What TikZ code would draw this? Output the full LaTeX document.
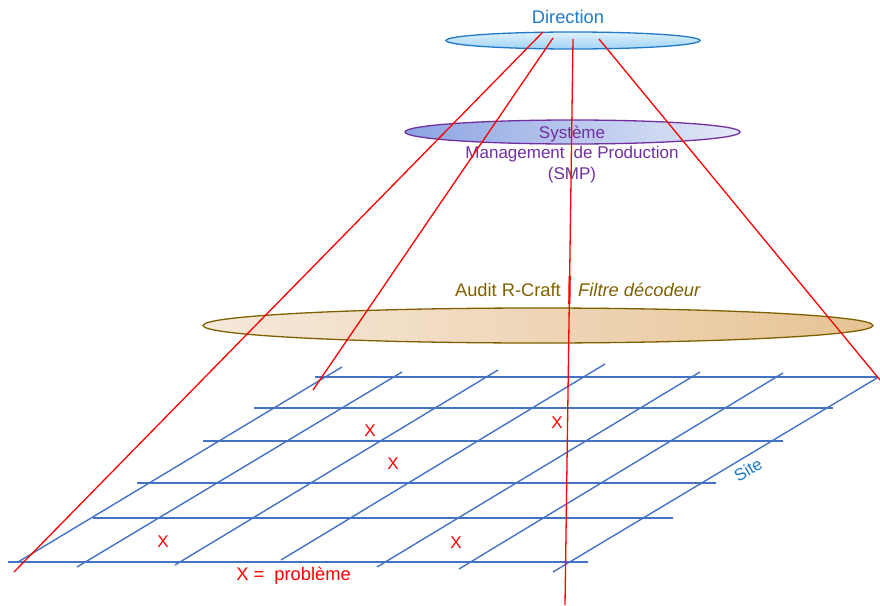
\documentclass[tikz,border=0pt]{standalone}
\usepackage{fontspec}
\setmainfont{Liberation Sans}
\definecolor{gridblue}{HTML}{4472C4}
\definecolor{dirblue}{HTML}{1F7BC8}
\definecolor{smppurple}{HTML}{7030A0}
\definecolor{auditbrown}{HTML}{7F6000}
\definecolor{redline}{HTML}{FF0000}
\begin{document}
\begin{tikzpicture}[x=1pt,y=-1pt,
  gridline/.style={gridblue,line width=1.4pt},
  redray/.style={redline,line width=1.3pt},
  lbl/.style={font=\fontsize{17}{20.5}\selectfont,inner sep=0pt},
  biglbl/.style={font=\fontsize{18.3}{21}\selectfont,inner sep=0pt},
  xmark/.style={lbl,text=redline}]
\useasboundingbox (0,0) rectangle (880,605);
% ellipses
\shade[top color={rgb,255:red,222;green,240;blue,252},bottom color={rgb,255:red,160;green,212;blue,246},draw=dirblue,line width=1.3pt]
  (573,40.5) ellipse [x radius=127pt,y radius=8.5pt];
\shade[left color={rgb,255:red,140;green,164;blue,226},right color={rgb,255:red,228;green,233;blue,248},draw=smppurple,line width=1.3pt]
  (572.5,132) ellipse [x radius=167.5pt,y radius=12pt];
\shade[shading angle=120,left color={rgb,255:red,246;green,233;blue,219},right color={rgb,255:red,231;green,195;blue,148},draw=auditbrown,line width=1.3pt]
  (538,325.5) ellipse [x radius=335pt,y radius=17.5pt];
% texts
\node[biglbl,text=dirblue] (dir) at (568,17) {Direction};
\node[lbl,text=smppurple,align=center] (smp) at (572,154)
  {Système\\Management\hspace{9pt}de Production\\(SMP)};
\node[biglbl,text=auditbrown,anchor=east] (audit) at (561,290) {Audit R-Craft};
\node[biglbl,text=auditbrown,anchor=west] (filtre) at (578,290) {\itshape Filtre décodeur};
% grid
\draw[gridline] (315,377) -- (878,377);
\draw[gridline] (254,408) -- (833,408);
\draw[gridline] (203,441) -- (783,441);
\draw[gridline] (137,483) -- (716,483);
\draw[gridline] (93,518) -- (673,518);
\draw[gridline] (8,562) -- (588,562);
\draw[gridline] (18,562) -- (342,367);
\draw[gridline] (77,567) -- (402,372);
\draw[gridline] (175,565) -- (498,370);
\draw[gridline] (281,560) -- (605,364);
\draw[gridline] (377,567) -- (700,372);
\draw[gridline] (459,569) -- (783,373);
\draw[gridline] (553,572) -- (877,378);
% red rays
\draw[redray] (543,32) -- (14,572);
\draw[redray] (553,38) -- (313,390);
\draw[redray] (573,39) -- (565,605);
\draw[redray] (599,39) -- (880,380);
\draw[redline,line width=2.2pt] (569.7,276) -- (569.3,304);
% marks
\node[xmark] (x1) at (370,431) {X};
\node[xmark] (x2) at (393,464) {X};
\node[xmark] (x3) at (557,423) {X};
\node[xmark] (x4) at (163,542) {X};
\node[xmark] (x5) at (456,543) {X};
\node[biglbl,text=redline] (legend) at (293.5,576) {X =\ \ problème};
\node[lbl,text=dirblue,rotate=31] (site) at (748,470) {Site};
\end{tikzpicture}
\end{document}
